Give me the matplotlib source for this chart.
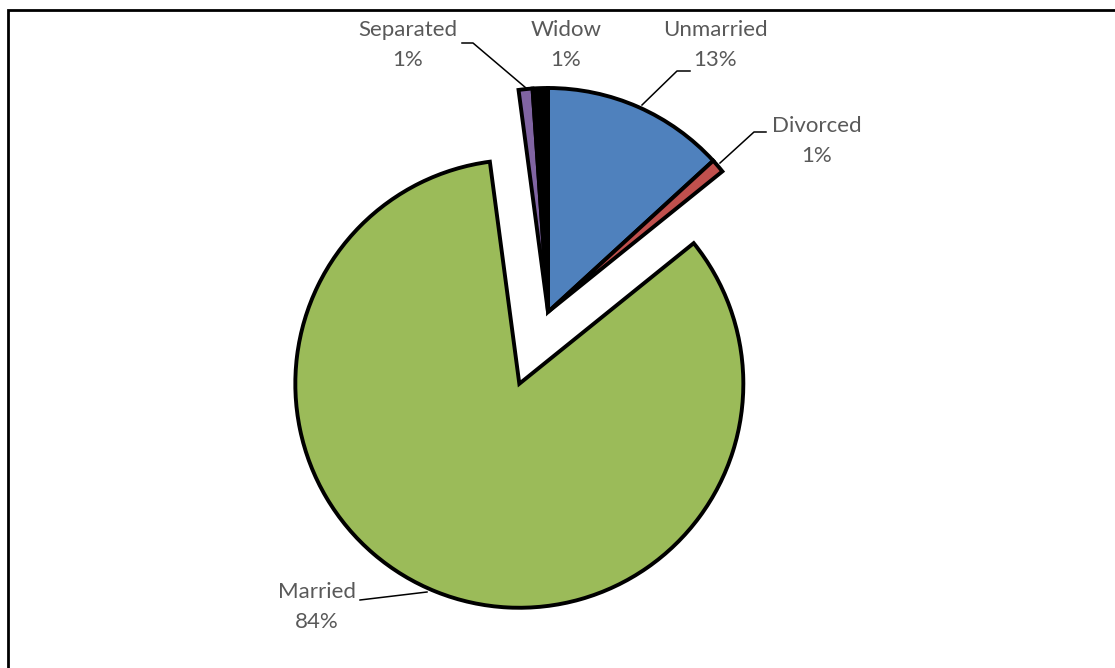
import matplotlib.pyplot as plt
from matplotlib.patches import Rectangle

# Marital status shares (%)
labels = ["Unmarried", "Divorced", "Married", "Separated", "Widow"]
values = [13.2, 1.0, 83.7, 1.0, 1.1]
colors = ["#4F81BD", "#C0504D", "#9BBB59", "#8064A2", "#000000"]

W, H = 1115, 668
R = 224
# matplotlib's explode is in data units, so scale by radius
explode = [0, 0, 0.345 * R, 0, 0]

def px(x, y):
    # pixel coords (y down) -> data coords (y up)
    return x, H - y

fig = plt.figure(figsize=(W / 100, H / 100), dpi=100)
ax = fig.add_axes([0, 0, 1, 1])

ax.pie(values, colors=colors, explode=explode, startangle=90, counterclock=False,
       center=px(548, 312), radius=R,
       wedgeprops=dict(edgecolor="black", linewidth=2.8, joinstyle="miter"))

ax.set_xlim(0, W)
ax.set_ylim(0, H)
ax.set_aspect("equal")
ax.axis("off")

# label text positions and leader lines (pixel coords)
label_pos = {
    "Unmarried": (715, 45),
    "Divorced": (817, 141),
    "Married": (317, 607),
    "Separated": (408, 45),
    "Widow": (566, 45),
}
leaders = {
    "Unmarried": [(690, 71), (677, 71), (642, 105)],
    "Divorced": [(766, 132), (754, 132), (720, 163)],
    "Married": [(360, 600), (427, 592)],
    "Separated": [(462, 43), (473, 43), (526, 88)],
}

for lab, v in zip(labels, values):
    x, y = px(*label_pos[lab])
    ax.text(x, y, f"{lab}\n{round(v)}%", ha="center", va="center",
            fontsize=16, color="#595959", family=["Lato", "DejaVu Sans"],
            linespacing=1.62)
    if lab in leaders:
        pts = [px(*p) for p in leaders[lab]]
        ax.plot([p[0] for p in pts], [p[1] for p in pts], color="black", lw=1.1)

# chart area border (right and bottom run off the image)
ax.add_patch(Rectangle(px(8, 680), 1200, 670, fill=False, edgecolor="black",
                       lw=2, clip_on=False))

fig.savefig("out.png", dpi=100)
